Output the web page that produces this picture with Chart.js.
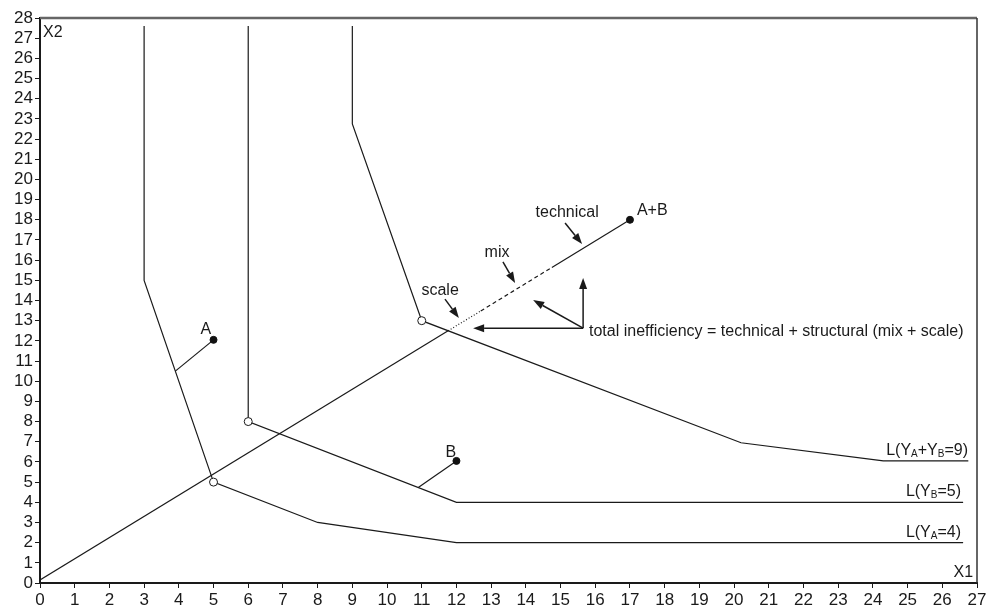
<!DOCTYPE html>
<html>
<head>
<meta charset="utf-8">
<script src="https://cdn.jsdelivr.net/npm/chart.js@4.4.0/dist/chart.umd.min.js"></script>
<style>
  html, body { margin: 0; padding: 0; background: #fff; }
</style>
</head>
<body>
<canvas id="chart" width="998" height="611"></canvas>
<script>
// Isoquants (x1, x2)
const isoA = [[3, 27.6], [3, 15], [5, 5], [8, 3], [12, 2], [26.6, 2]];
const isoB = [[6, 27.6], [6, 8], [12, 4], [26.6, 4]];
const isoAB = [[9, 27.6], [9, 22.75], [11, 13], [20.2, 6.95], [24.3, 6.05], [26.75, 6.05]];

// Ray from origin to A+B, split in its pieces
const raySolid = [[0, 0.15], [11.76, 12.5]];
const rayScale = [[11.76, 12.5], [12.7, 13.48]];
const rayMix = [[12.7, 13.48], [14.75, 15.64]];
const rayTech = [[14.75, 15.64], [17, 18]];

// Connectors from the firms to their isoquants
const linkA = [[5, 12.05], [3.9, 10.5]];
const linkB = [[12, 6.05], [10.9, 4.73]];

// Points
const firmPoints = [[5, 12.05], [12, 6.05], [17, 18]];
const efficientPoints = [[5, 5], [6, 8], [11, 13]];

// Annotation arrows: [from, to] in data units
const arrows = [
  [[11.67, 14.07], [12.07, 13.13]],
  [[13.34, 15.91], [13.69, 14.87]],
  [[15.13, 17.84], [15.62, 16.8]],
  [[15.65, 12.63], [12.48, 12.63]],
  [[15.65, 12.63], [14.21, 14.02]],
  [[15.65, 12.63], [15.65, 15.11]]
];

// Text labels: [x, y, align, parts]  (parts: [text, isSub])
const labels = [
  [4.78, 12.34, 'center', [['A', false]]],
  [11.84, 6.24, 'center', [['B', false]]],
  [17.2, 18.24, 'left', [['A+B', false]]],
  [15.19, 18.14, 'center', [['technical', false]]],
  [13.17, 16.15, 'center', [['mix', false]]],
  [11.53, 14.27, 'center', [['scale', false]]],
  [15.82, 12.24, 'left', [['total inefficiency = technical + structural (mix + scale)', false]]],
  [26.74, 6.34, 'right', [['L(Y', false], ['A', true], ['+Y', false], ['B', true], ['=9)', false]]],
  [26.54, 4.31, 'right', [['L(Y', false], ['B', true], ['=5)', false]]],
  [26.54, 2.28, 'right', [['L(Y', false], ['A', true], ['=4)', false]]],
  [26.89, 0.3, 'right', [['X1', false]]],
  [0.09, 27.06, 'left', [['X2', false]]]
];

const FONT = '"Liberation Sans", Arial, Helvetica, sans-serif';
const INK = '#1a1a1a';
const TEXT_SIZE = 16;
const SUB_SIZE = 10;

const toXY = pts => pts.map(p => ({ x: p[0], y: p[1] }));

function lineSet(pts, dash) {
  return {
    data: toXY(pts),
    showLine: true,
    borderColor: INK,
    borderWidth: 1.2,
    borderDash: dash || [],
    pointRadius: 0,
    fill: false,
    tension: 0
  };
}

const annotationPlugin = {
  id: 'annotations',
  afterDatasetsDraw(chart) {
    const ctx = chart.ctx;
    const xs = chart.scales.x;
    const ys = chart.scales.y;
    const area = chart.chartArea;

    // frame: top and right
    ctx.save();
    ctx.strokeStyle = '#666';
    ctx.lineWidth = 2.5;
    ctx.beginPath();
    ctx.moveTo(area.left, area.top);
    ctx.lineTo(area.right, area.top);
    ctx.stroke();
    ctx.strokeStyle = '#333';
    ctx.lineWidth = 1.5;
    ctx.beginPath();
    ctx.moveTo(area.right, area.top);
    ctx.lineTo(area.right, area.bottom);
    ctx.stroke();

    // arrows
    ctx.strokeStyle = INK;
    ctx.fillStyle = INK;
    ctx.lineWidth = 1.5;
    arrows.forEach(([a, b]) => {
      const x1 = xs.getPixelForValue(a[0]), y1 = ys.getPixelForValue(a[1]);
      const x2 = xs.getPixelForValue(b[0]), y2 = ys.getPixelForValue(b[1]);
      const ang = Math.atan2(y2 - y1, x2 - x1);
      const len = 11, half = 4;
      const bx = x2 - len * Math.cos(ang), by = y2 - len * Math.sin(ang);
      ctx.beginPath();
      ctx.moveTo(x1, y1);
      ctx.lineTo(bx, by);
      ctx.stroke();
      ctx.beginPath();
      ctx.moveTo(x2, y2);
      ctx.lineTo(bx + half * Math.sin(ang), by - half * Math.cos(ang));
      ctx.lineTo(bx - half * Math.sin(ang), by + half * Math.cos(ang));
      ctx.closePath();
      ctx.fill();
    });

    // texts
    ctx.textBaseline = 'alphabetic';
    ctx.textAlign = 'left';
    labels.forEach(([x, y, align, parts]) => {
      const widths = parts.map(([t, sub]) => {
        ctx.font = (sub ? SUB_SIZE : TEXT_SIZE) + 'px ' + FONT;
        return ctx.measureText(t).width;
      });
      const total = widths.reduce((s, w) => s + w, 0);
      let px = xs.getPixelForValue(x);
      const py = ys.getPixelForValue(y);
      if (align === 'right') px -= total;
      if (align === 'center') px -= total / 2;
      parts.forEach(([t, sub], i) => {
        ctx.font = (sub ? SUB_SIZE : TEXT_SIZE) + 'px ' + FONT;
        ctx.fillText(t, px, sub ? py + 2 : py);
        px += widths[i];
      });
    });
    ctx.restore();
  }
};

const axisStyle = {
  type: 'linear',
  grid: { drawOnChartArea: false, drawTicks: true, tickLength: 5, color: INK, lineWidth: 1 },
  border: { display: true, color: INK, width: 2 },
  ticks: { stepSize: 1, color: INK, font: { family: FONT, size: 17 }, autoSkip: false, maxRotation: 0 }
};

new Chart(document.getElementById('chart'), {
  type: 'scatter',
  data: {
    datasets: [
      {
        data: toXY(firmPoints),
        pointRadius: 3.5,
        pointBackgroundColor: '#111',
        pointBorderColor: '#111',
        showLine: false
      },
      {
        data: toXY(efficientPoints),
        pointRadius: 4,
        pointBackgroundColor: '#fff',
        pointBorderColor: INK,
        pointBorderWidth: 1,
        showLine: false
      },
      lineSet(isoA),
      lineSet(isoB),
      lineSet(isoAB),
      lineSet(raySolid),
      lineSet(rayScale, [1, 2]),
      lineSet(rayMix, [4, 3]),
      lineSet(rayTech),
      lineSet(linkA),
      lineSet(linkB)
    ]
  },
  options: {
    responsive: false,
    animation: false,
    layout: { padding: { top: 18, right: 21, left: 0, bottom: 0 } },
    plugins: { legend: { display: false }, tooltip: { enabled: false } },
    scales: {
      x: Object.assign({}, axisStyle, {
        min: 0, max: 27,
        ticks: Object.assign({}, axisStyle.ticks, { padding: 2 }),
        afterFit: s => { s.height = 28; }
      }),
      y: Object.assign({}, axisStyle, {
        min: 0, max: 28,
        ticks: Object.assign({}, axisStyle.ticks, { padding: 2 }),
        afterFit: s => { s.width = 40; }
      })
    }
  },
  plugins: [annotationPlugin]
});
</script>
</body>
</html>
